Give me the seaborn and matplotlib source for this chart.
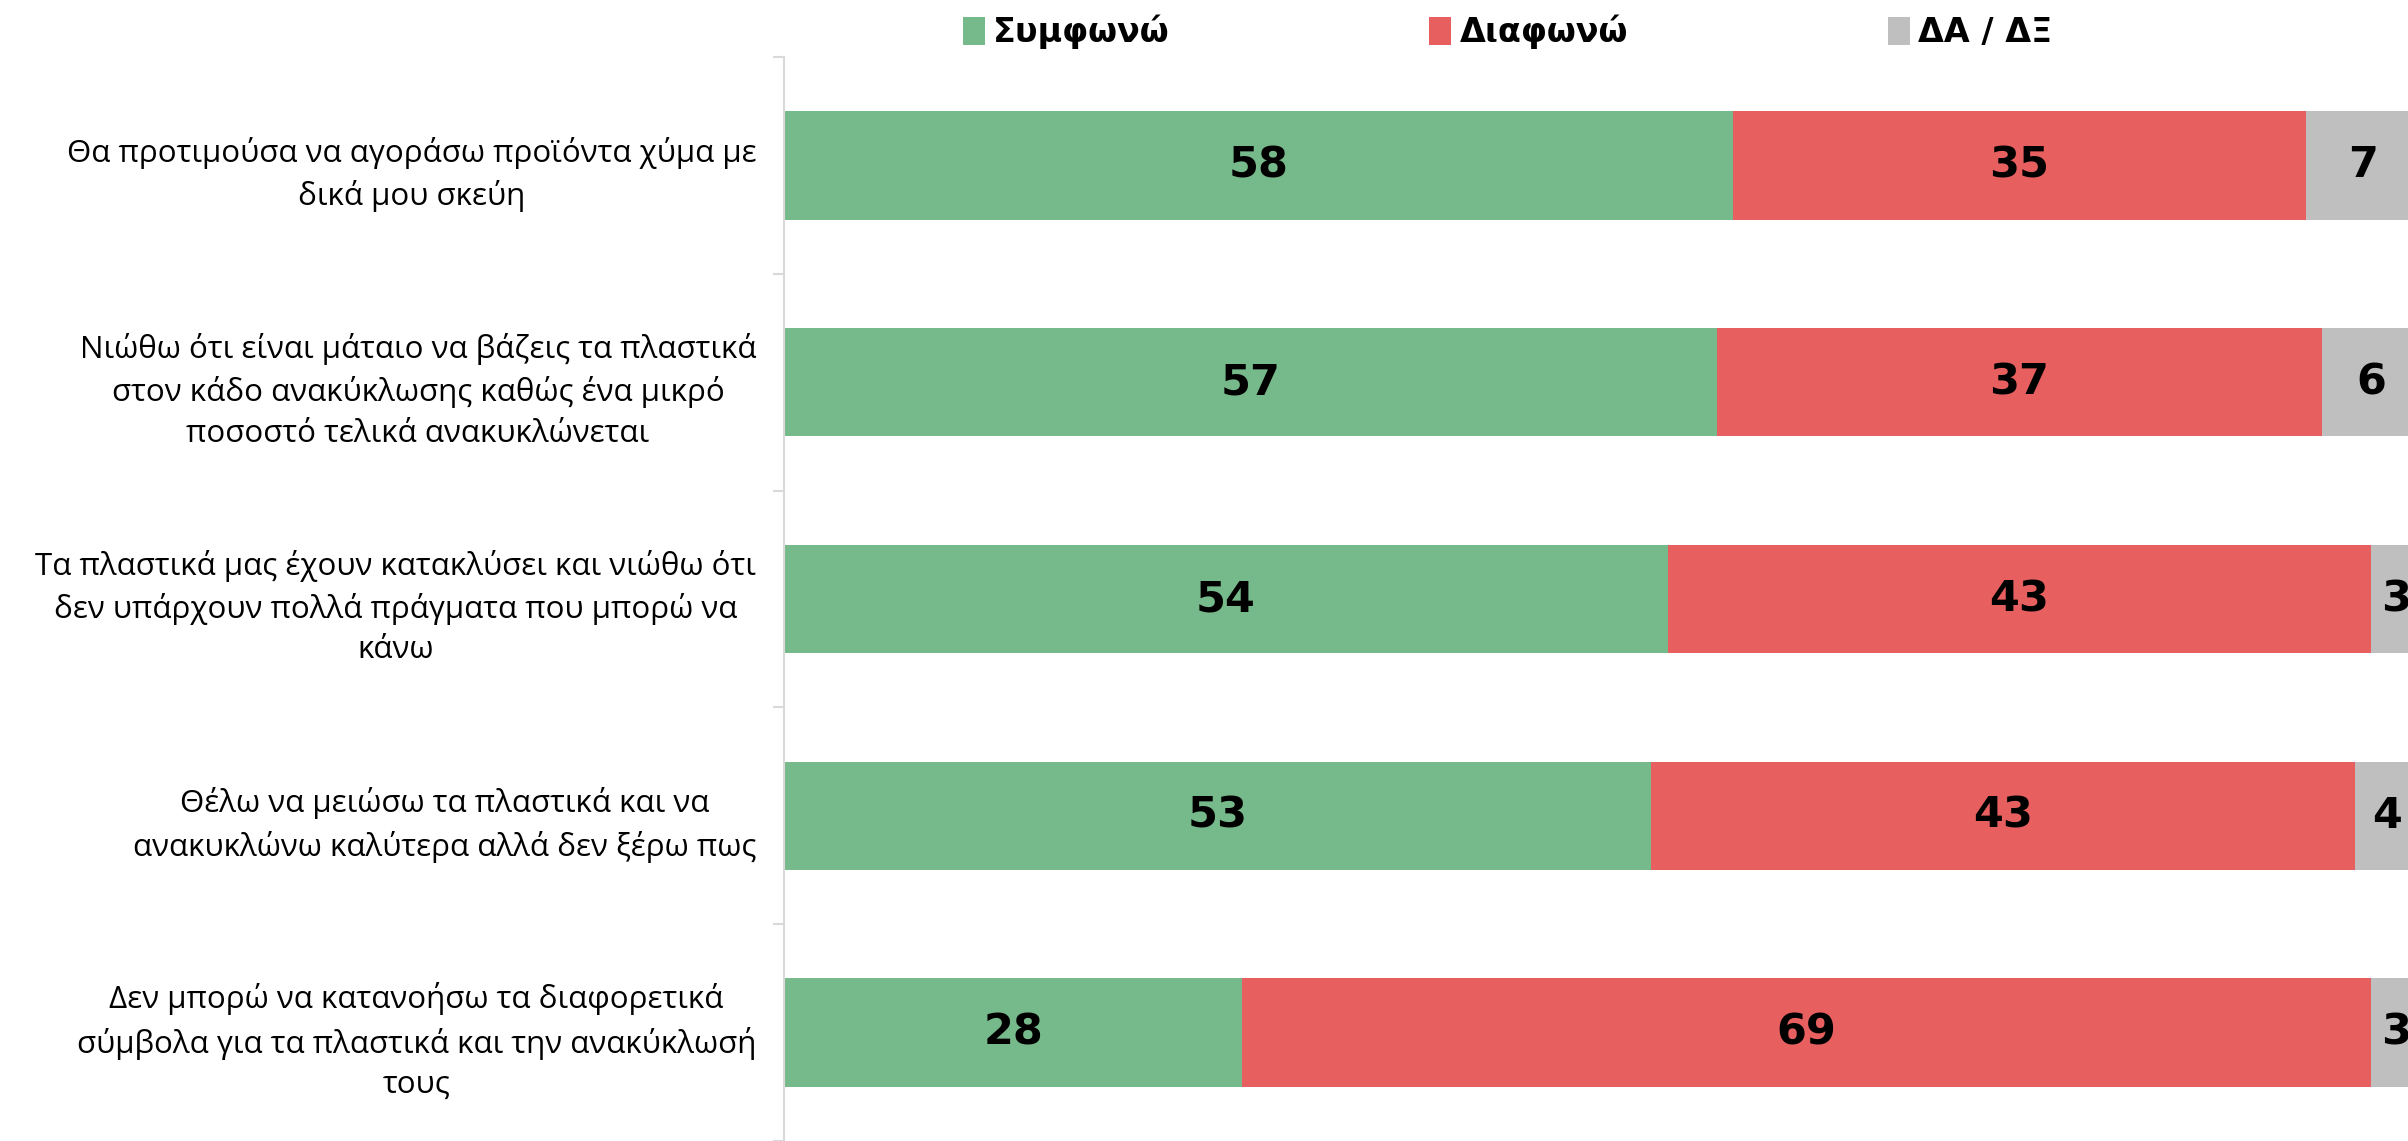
import numpy as np
import pandas as pd
import matplotlib
matplotlib.use("Agg")
import matplotlib.pyplot as plt
import seaborn as sns
from matplotlib.patches import Patch

# --- data ---
statements = [
    "Θα προτιμούσα να αγοράσω προϊόντα χύμα με\nδικά μου σκεύη",
    "Νιώθω ότι είναι μάταιο να βάζεις τα πλαστικά\nστον κάδο ανακύκλωσης καθώς ένα μικρό\nποσοστό τελικά ανακυκλώνεται",
    "Τα πλαστικά μας έχουν κατακλύσει και νιώθω ότι\nδεν υπάρχουν πολλά πράγματα που μπορώ να\nκάνω",
    "Θέλω να μειώσω τα πλαστικά και να\nανακυκλώνω καλύτερα αλλά δεν ξέρω πως",
    "Δεν μπορώ να κατανοήσω τα διαφορετικά\nσύμβολα για τα πλαστικά και την ανακύκλωσή\nτους",
]
agree = [58, 57, 54, 53, 28]
disagree = [35, 37, 43, 43, 69]
dont_know = [7, 6, 3, 4, 3]
series_names = ["Συμφωνώ", "Διαφωνώ", "ΔΑ / ΔΞ"]
colors = ["#76B98A", "#E85F5F", "#BFBFBF"]

df = pd.DataFrame({
    "statement": statements,
    "agree": agree,
    "disagree": disagree,
    "dk": dont_know,
})
df["cum1"] = df["agree"]
df["cum2"] = df["agree"] + df["disagree"]
df["cum3"] = df["cum2"] + df["dk"]

sns.set_theme(style="white")
plt.rcParams["font.family"] = ["Open Sans", "DejaVu Sans"]
plt.rcParams["text.color"] = "black"
BOLD = ["DejaVu Sans"]

fig = plt.figure(figsize=(24.08, 11.41), dpi=100)
ax = fig.add_axes([0.3256, 0.0, 0.6795, 0.95])

# stacked bars: draw totals back to front
for col, c in [("cum3", colors[2]), ("cum2", colors[1]), ("cum1", colors[0])]:
    sns.barplot(data=df, x=col, y="statement", color=c, orient="h",
                width=0.5, errorbar=None, linewidth=0, saturation=1, ax=ax)

# segment labels
for i, row in df.iterrows():
    starts = [0, row["cum1"], row["cum2"]]
    vals = [row["agree"], row["disagree"], row["dk"]]
    for s, v in zip(starts, vals):
        ax.text(s + v / 2, i, f"{v}", ha="center", va="center",
                fontsize=31, fontweight="bold", family=BOLD, color="black")

ax.set_xlim(0, 100)
ax.set_ylim(4.472, -0.5)
ax.set_xlabel("")
ax.set_ylabel("")
ax.set_xticks([])

for side in ["top", "right", "bottom"]:
    ax.spines[side].set_visible(False)
ax.spines["left"].set_color("#D9D9D9")
ax.spines["left"].set_linewidth(1.5)

ax.set_yticks(range(len(statements)))
ax.set_yticklabels(statements, fontsize=22.5, multialignment="center",
                   linespacing=1.45, color="black")
ax.tick_params(axis="y", which="major", length=0, pad=20)
ax.set_yticks(np.arange(-0.5, 4.6, 1.0), minor=True)
ax.tick_params(axis="y", which="minor", length=8, width=1.5,
               color="#D9D9D9", left=True)

handles = [Patch(facecolor=c, edgecolor="none") for c in colors]
leg = fig.legend(handles, series_names, loc="center", ncol=3,
                 bbox_to_anchor=(0.626, 0.972), frameon=False,
                 prop={"size": 24, "weight": "bold", "family": BOLD},
                 handlelength=0.65, handleheight=0.9, handletextpad=0.25,
                 columnspacing=7.8)
for t in leg.get_texts():
    t.set_color("black")

fig.savefig("out.png", dpi=100, facecolor="white")
